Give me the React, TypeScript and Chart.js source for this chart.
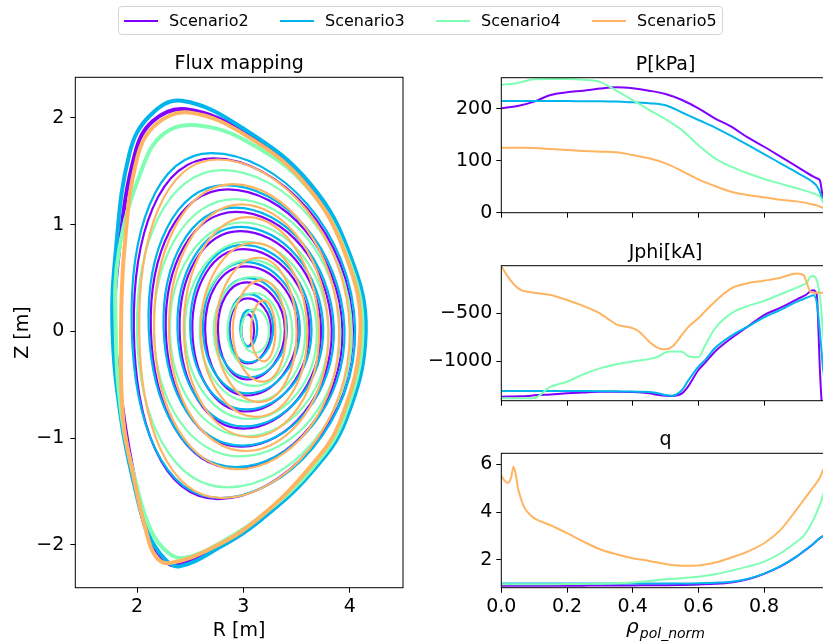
import React, { useEffect, useRef } from 'react';
import { Chart, registerables } from 'chart.js';

Chart.register(...registerables);

const FONT = "'DejaVu Sans', 'Liberation Sans', sans-serif";
const SCENARIOS = ['Scenario2', 'Scenario3', 'Scenario4', 'Scenario5'];
const COLORS = ['#8000ff', '#00b4ec', '#80ffb4', '#ffb462'];

// ---------------- Flux mapping ----------------
const R_TICKS = [2, 3, 4];
const Z_TICKS = [-2, -1, 0, 1, 2];
const R_MIN = 1.42, R_MAX = 4.5;
const Z_MIN = -2.4, Z_MAX = 2.38;

// inner flux surfaces: [R_outer, Z_outer, R_top, Z_top, R_inner, Z_inner, R_bottom, Z_bottom]
const SURF_S2 = [
  [4.03, 0.02, 2.72, 1.62, 1.97, 0.02, 2.76, -1.57],
  [3.93, 0.02, 2.85, 1.33, 2.13, 0.02, 2.92, -1.28],
  [3.83, 0.02, 2.93, 1.12, 2.27, 0.02, 2.98, -1.08],
  [3.73, 0.02, 2.97, 0.94, 2.40, 0.02, 3.0, -0.91],
  [3.62, 0.02, 3.0, 0.77, 2.52, 0.02, 3.02, -0.75],
  [3.51, 0.02, 3.02, 0.61, 2.64, 0.02, 3.03, -0.6],
  [3.39, 0.02, 3.03, 0.46, 2.76, 0.02, 3.04, -0.45],
  [3.26, 0.02, 3.04, 0.31, 2.87, 0.02, 3.04, -0.3],
  [3.1, 0.01, 3.04, 0.16, 2.98, 0.01, 3.04, -0.14],
];
const SURF_S3 = [
  [4.05, 0.03, 2.7, 1.67, 1.95, 0.03, 2.78, -1.56],
  [3.95, 0.03, 2.83, 1.37, 2.11, 0.03, 2.93, -1.27],
  [3.85, 0.03, 2.92, 1.16, 2.25, 0.03, 2.99, -1.07],
  [3.75, 0.03, 2.97, 0.98, 2.38, 0.03, 3.01, -0.89],
  [3.64, 0.03, 3.0, 0.81, 2.5, 0.03, 3.03, -0.73],
  [3.53, 0.03, 3.02, 0.65, 2.62, 0.03, 3.04, -0.58],
  [3.41, 0.03, 3.04, 0.5, 2.74, 0.03, 3.05, -0.43],
  [3.28, 0.03, 3.05, 0.35, 2.86, 0.03, 3.05, -0.29],
  [3.13, 0.03, 3.05, 0.2, 2.97, 0.03, 3.05, -0.14],
];
const SURF_S4 = [
  [4.02, 0.0, 2.8, 1.51, 2.0, 0.0, 2.85, -1.46],
  [3.91, 0.0, 2.92, 1.24, 2.16, 0.0, 2.97, -1.17],
  [3.8, 0.0, 2.99, 1.02, 2.31, 0.0, 3.03, -0.98],
  [3.69, 0.0, 3.03, 0.84, 2.45, 0.0, 3.06, -0.82],
  [3.58, 0.0, 3.06, 0.67, 2.59, 0.0, 3.08, -0.66],
  [3.46, 0.0, 3.08, 0.51, 2.72, 0.0, 3.1, -0.51],
  [3.35, 0.0, 3.1, 0.36, 2.85, 0.0, 3.11, -0.36],
  [3.24, 0.0, 3.11, 0.21, 2.98, 0.0, 3.11, -0.2],
];
const SURF_S5 = [
  [4.0, 0.0, 2.76, 1.61, 2.02, 0.0, 2.8, -1.56],
  [3.9, 0.0, 2.9, 1.38, 2.16, 0.0, 2.95, -1.29],
  [3.8, 0.0, 2.98, 1.19, 2.3, 0.0, 3.02, -1.12],
  [3.71, 0.0, 3.04, 1.07, 2.44, 0.0, 3.07, -0.99],
  [3.6, 0.0, 3.1, 0.83, 2.6, 0.0, 3.12, -0.8],
  [3.5, 0.0, 3.14, 0.69, 2.74, 0.0, 3.15, -0.66],
  [3.4, 0.0, 3.17, 0.48, 2.9, 0.0, 3.18, -0.47],
  [3.3, 0.0, 3.19, 0.29, 3.07, 0.0, 3.19, -0.28],
];

// last closed flux surface [R, Z]
const LCFS_S2 = [
  [4.12, 0.0], [3.98, 0.72], [3.61, 1.37], [3.05, 1.84], [2.46, 2.08], [2.15, 1.97], [1.98, 1.66],
  [1.83, 0.75], [1.79, 0.0], [1.88, -0.84], [1.99, -1.45], [2.09, -1.87], [2.22, -2.1], [2.36, -2.19],
  [2.75, -2.03], [3.15, -1.77], [3.62, -1.32], [3.93, -0.84],
];
const LCFS_S3 = [
  [4.15, 0.0], [4.0, 0.72], [3.63, 1.38], [3.03, 1.88], [2.42, 2.16], [2.12, 2.02], [1.93, 1.67],
  [1.8, 0.75], [1.77, 0.0], [1.85, -0.82], [1.97, -1.42], [2.1, -1.88], [2.26, -2.13], [2.4, -2.2],
  [2.78, -2.02], [3.17, -1.76], [3.64, -1.32], [3.96, -0.84],
];
const LCFS_S4 = [
  [4.12, 0.0], [3.97, 0.72], [3.6, 1.35], [3.05, 1.77], [2.56, 1.93], [2.25, 1.85], [2.05, 1.53],
  [1.83, 0.75], [1.8, 0.0], [1.86, -0.82], [1.99, -1.42], [2.13, -1.86], [2.29, -2.07], [2.45, -2.12],
  [2.8, -1.97], [3.18, -1.72], [3.64, -1.29], [3.94, -0.82],
];
const LCFS_S5 = [
  [4.1, 0.0], [3.96, 0.72], [3.6, 1.36], [3.05, 1.82], [2.49, 2.05], [2.18, 1.94], [2.0, 1.62],
  [1.88, 0.75], [1.85, 0.0], [1.87, -0.82], [1.98, -1.42], [2.08, -1.85], [2.17, -2.1], [2.3, -2.17],
  [2.72, -2.02], [3.13, -1.76], [3.6, -1.3], [3.91, -0.84],
];

// ---------------- Profiles ----------------
const RHO_TICKS = [0, 0.2, 0.4, 0.6, 0.8];
const P_TICKS = [0, 100, 200];
const J_TICKS = [-1000, -500];
const Q_TICKS = [2, 4, 6];

const RHO_P = [0, 0.05, 0.1, 0.15, 0.2, 0.25, 0.3, 0.35, 0.4, 0.45, 0.5, 0.55, 0.6, 0.65, 0.7, 0.75, 0.8, 0.85, 0.9, 0.95, 0.96, 0.97, 0.975, 0.98, 0.99];
const P_S2 = [201, 205.6, 214, 226.8, 232, 235, 239, 241.6, 239.6, 235, 228.6, 217, 201, 181.8, 165.7, 145, 127, 108, 88.8, 69.5, 66.3, 62, 45, 24, 12];
const P_S3 = [215.3, 215.2, 215, 215, 215, 214.8, 214.6, 214, 212.6, 211, 207, 193, 178.6, 164.5, 147.8, 130.5, 113, 95, 77, 57.9, 51.4, 40, 30, 21, 12];
const P_S4 = [246, 250, 256.9, 257.5, 257.5, 256, 252, 235, 217, 198, 180, 159, 130, 104.7, 88.7, 76, 65, 56, 47, 37.3, 35, 31, 26, 21, 15];
const P_S5 = [125.2, 125, 124.6, 122.8, 120.8, 119, 117.6, 116.3, 111, 104.7, 95, 80.2, 64.2, 51.4, 40.4, 34, 29.6, 25, 21.8, 15.5, 14, 11.5, 10.5, 9, 7];

const RHO_J = [0, 0.02, 0.04, 0.06, 0.08, 0.1, 0.15, 0.2, 0.25, 0.3, 0.33, 0.35, 0.4, 0.42, 0.45, 0.48, 0.5, 0.52, 0.55, 0.57, 0.6, 0.62, 0.65, 0.7, 0.75, 0.8, 0.85, 0.9, 0.92, 0.93, 0.94, 0.95, 0.96, 0.97, 0.975, 0.98, 0.99];
const J_S2 = [-1374, -1373, -1372, -1370, -1366, -1360, -1350, -1339, -1330, -1322, -1322, -1322, -1325, -1328, -1339, -1357, -1364, -1366, -1339, -1260, -1094, -1020, -902, -762, -640, -518, -441, -353, -320, -300, -270, -258, -300, -1100, -1416, -1500, -1500];
const J_S3 = [-1314, -1314, -1314, -1314, -1314, -1314, -1314, -1314, -1315, -1316, -1317, -1318, -1320, -1322, -1325, -1340, -1357, -1364, -1304, -1200, -1059, -990, -867, -737, -640, -542, -465, -378, -350, -335, -322, -310, -380, -700, -900, -1100, -1300];
const J_S4 = [-1391, -1391, -1391, -1391, -1391, -1388, -1269, -1217, -1139, -1077, -1050, -1035, -1005, -995, -980, -950, -910, -900, -902, -950, -960, -840, -660, -500, -425, -370, -300, -230, -200, -180, -120, -108, -150, -330, -500, -745, -900];
const J_S5 = [-5, -116, -203, -256, -274, -284, -308, -361, -423, -500, -570, -616, -657, -693, -798, -867, -878, -850, -727, -640, -552, -480, -378, -238, -185, -158, -127, -82, -100, -180, -270, -284, -284, -284, -284, -284, -284];

const RHO_Q = [0, 0.01, 0.02, 0.03, 0.037, 0.045, 0.05, 0.06, 0.07, 0.08, 0.1, 0.15, 0.2, 0.25, 0.3, 0.35, 0.4, 0.45, 0.5, 0.55, 0.6, 0.65, 0.7, 0.75, 0.8, 0.85, 0.9, 0.92, 0.95, 0.97, 0.98, 0.99];
const Q_S2 = [0.92, 0.92, 0.92, 0.92, 0.92, 0.92, 0.92, 0.92, 0.92, 0.92, 0.92, 0.92, 0.92, 0.925, 0.93, 0.93, 0.935, 0.94, 0.945, 0.955, 0.97, 1.0, 1.06, 1.19, 1.42, 1.73, 2.15, 2.35, 2.67, 2.92, 3.0, 3.05];
const Q_S3 = [1.02, 1.02, 1.02, 1.02, 1.02, 1.02, 1.02, 1.02, 1.02, 1.02, 1.02, 1.02, 1.02, 1.02, 1.02, 1.02, 1.02, 1.02, 1.02, 1.02, 1.03, 1.05, 1.09, 1.21, 1.43, 1.74, 2.16, 2.37, 2.68, 2.92, 3.0, 3.05];
const Q_S4 = [0.98, 0.98, 0.98, 0.98, 0.98, 0.98, 0.98, 0.98, 0.98, 0.98, 0.98, 0.985, 0.99, 1.0, 1.01, 1.03, 1.06, 1.12, 1.19, 1.24, 1.3, 1.4, 1.55, 1.72, 1.93, 2.28, 2.77, 3.0, 3.68, 4.31, 4.73, 5.0];
const Q_S5 = [5.52, 5.31, 5.22, 5.45, 5.9, 5.5, 5.05, 4.55, 4.2, 4.0, 3.75, 3.45, 3.12, 2.77, 2.45, 2.24, 2.07, 1.96, 1.83, 1.76, 1.77, 1.89, 2.1, 2.35, 2.7, 3.26, 4.13, 4.5, 5.05, 5.45, 5.77, 6.0];

// ---------------- helpers ----------------
const HIDDEN = 'rgba(0,0,0,0)';
const minus = (s: string) => s.replace('-', '\u2212');

function closedLine(pts: { x: number; y: number }[], color: string, width: number, order: number, tension: number) {
  const data = [pts[pts.length - 1], ...pts, pts[0], pts[1]];
  const n = data.length;
  return {
    data,
    borderColor: color,
    borderWidth: width,
    pointRadius: 0,
    pointHoverRadius: 0,
    pointHitRadius: 0,
    fill: false,
    tension,
    order,
    segment: {
      borderColor: (ctx: any) => (ctx.p0DataIndex === 0 || ctx.p1DataIndex === n - 1 ? HIDDEN : undefined),
    },
  };
}

function axis(min: number, max: number, ticks: number[], fmt: (v: number) => string, size: number, horizontal: boolean, pad: number) {
  return {
    type: 'linear',
    min,
    max,
    afterBuildTicks: (s: any) => {
      s.ticks = ticks.map((v) => ({ value: v }));
    },
    afterFit: (s: any) => {
      if (horizontal) s.height = size;
      else s.width = size;
    },
    grid: { drawOnChartArea: false, drawTicks: true, tickLength: 5, color: '#000', lineWidth: 1 },
    border: { display: false },
    ticks: {
      font: { family: FONT, size: 19 },
      color: '#000',
      padding: pad,
      autoSkip: false,
      maxRotation: 0,
      minRotation: 0,
      callback: (v: any) => fmt(Number(v)),
    },
  };
}

function setFont(ctx: CanvasRenderingContext2D, size: number, italic = false) {
  ctx.font = `${italic ? 'italic ' : ''}${size}px ${FONT}`;
}

function deco(draw: (ctx: CanvasRenderingContext2D, a: any) => void) {
  return {
    id: 'deco',
    afterDraw(chart: any) {
      const ctx: CanvasRenderingContext2D = chart.ctx;
      const a = chart.chartArea;
      ctx.save();
      ctx.strokeStyle = '#000';
      ctx.lineWidth = 1;
      ctx.strokeRect(a.left, a.top, a.right - a.left, a.bottom - a.top);
      ctx.fillStyle = '#000';
      ctx.textBaseline = 'alphabetic';
      draw(ctx, a);
      ctx.restore();
    },
  };
}

function baseOptions(padTop: number, padRight: number, scales: any) {
  return {
    animation: false,
    responsive: false,
    devicePixelRatio: 1,
    events: [],
    layout: { padding: { left: 0, top: padTop, right: padRight, bottom: 0 } },
    plugins: { legend: { display: false }, tooltip: { enabled: false }, title: { display: false } },
    scales,
  };
}

function fluxConfig(): any {
  const surfaces = [SURF_S2, SURF_S3, SURF_S4, SURF_S5];
  const lcfs = [LCFS_S2, LCFS_S3, LCFS_S4, LCFS_S5];
  const datasets: any[] = [];
  for (let i = 0; i < 4; i++) {
    const order = 3 - i;
    datasets.push(closedLine(lcfs[i].map(([x, y]) => ({ x, y })), COLORS[i], 4, order, 0.4));
    for (const s of surfaces[i]) {
      const pts = [
        { x: s[0], y: s[1] },
        { x: s[2], y: s[3] },
        { x: s[4], y: s[5] },
        { x: s[6], y: s[7] },
      ];
      datasets.push(closedLine(pts, COLORS[i], 2.2, order, 0.55));
    }
  }
  return {
    type: 'line',
    data: { datasets },
    options: baseOptions(77.3, 17, {
      x: axis(R_MIN, R_MAX, R_TICKS, (v) => minus(String(v)), 55.3, true, 2.5),
      y: axis(Z_MIN, Z_MAX, Z_TICKS, (v) => minus(String(v)), 75.3, false, 6),
    }),
    plugins: [
      deco((ctx, a) => {
        const cx = (a.left + a.right) / 2;
        setFont(ctx, 19);
        ctx.textAlign = 'center';
        ctx.fillText('Flux mapping', cx, a.top - 8);
        ctx.fillText('R [m]', cx, 635.5);
        ctx.save();
        ctx.translate(27.5, (a.top + a.bottom) / 2);
        ctx.rotate(-Math.PI / 2);
        ctx.fillText('Z [m]', 0, 0);
        ctx.restore();
      }),
    ],
  };
}

function profileConfig(
  rho: number[],
  series: number[][],
  yMin: number,
  yMax: number,
  yTicks: number[],
  yFmt: (v: number) => string,
  showX: boolean,
  padTop: number,
  xHeight: number,
  title: string,
  extra?: (ctx: CanvasRenderingContext2D, a: any) => void
): any {
  const datasets = series.map((vals, i) => ({
    label: SCENARIOS[i],
    data: vals.map((v, k) => ({ x: rho[k], y: v })),
    borderColor: COLORS[i],
    borderWidth: 2,
    pointRadius: 0,
    pointHoverRadius: 0,
    pointHitRadius: 0,
    fill: false,
    cubicInterpolationMode: 'monotone',
    order: 3 - i,
  }));
  return {
    type: 'line',
    data: { datasets },
    options: baseOptions(padTop, 10.2, {
      x: axis(0, 1, RHO_TICKS, (v) => (showX ? v.toFixed(1) : ''), xHeight, true, 2.5),
      y: axis(yMin, yMax, yTicks, yFmt, 81.3, false, 4),
    }),
    plugins: [
      deco((ctx, a) => {
        const cx = (a.left + a.right) / 2;
        setFont(ctx, 19);
        ctx.textAlign = 'center';
        ctx.fillText(title, cx, a.top - 8);
        if (extra) extra(ctx, a);
      }),
    ],
  };
}

export default function App() {
  const fluxRef = useRef<HTMLCanvasElement>(null);
  const pRef = useRef<HTMLCanvasElement>(null);
  const jRef = useRef<HTMLCanvasElement>(null);
  const qRef = useRef<HTMLCanvasElement>(null);

  useEffect(() => {
    const charts: Chart[] = [];
    charts.push(new Chart(fluxRef.current as HTMLCanvasElement, fluxConfig()));
    charts.push(
      new Chart(
        pRef.current as HTMLCanvasElement,
        profileConfig(RHO_P, [P_S2, P_S3, P_S4, P_S5], 0, 260, P_TICKS, (v) => String(v), false, 37.7, 17.3, 'P[kPa]')
      )
    );
    charts.push(
      new Chart(
        jRef.current as HTMLCanvasElement,
        profileConfig(RHO_J, [J_S2, J_S3, J_S4, J_S5], -1416, -1, J_TICKS, (v) => minus(String(v)), false, 37.7, 17.3, 'Jphi[kA]')
      )
    );
    charts.push(
      new Chart(
        qRef.current as HTMLCanvasElement,
        profileConfig(RHO_Q, [Q_S2, Q_S3, Q_S4, Q_S5], 0.84, 6.46, Q_TICKS, (v) => String(v), true, 37.3, 55.3, 'q', (ctx, a) => {
          const cx = (a.left + a.right) / 2;
          setFont(ctx, 20, true);
          const w1 = ctx.measureText('\u03c1').width;
          setFont(ctx, 14, true);
          const w2 = ctx.measureText('pol_norm').width;
          const x0 = cx - (w1 + 1 + w2) / 2;
          ctx.textAlign = 'left';
          setFont(ctx, 20, true);
          ctx.fillText('\u03c1', x0, 217.4);
          setFont(ctx, 14, true);
          ctx.fillText('pol_norm', x0 + w1 + 1, 221.5);
        })
      )
    );
    return () => charts.forEach((c) => c.destroy());
  }, []);

  const canvasStyle = (left: number, top: number, w: number, h: number): React.CSSProperties => ({
    position: 'absolute',
    left,
    top,
    width: w,
    height: h,
  });

  return (
    <div style={{ position: 'absolute', left: 0, top: 0, width: 823, height: 643, overflow: 'hidden', background: '#fff' }}>
      <canvas ref={fluxRef} width={420} height={643} style={canvasStyle(0, 0, 420, 643)} />
      <canvas ref={pRef} width={420} height={190} style={canvasStyle(420, 40, 420, 190)} />
      <canvas ref={jRef} width={420} height={190} style={canvasStyle(420, 228, 420, 190)} />
      <canvas ref={qRef} width={420} height={227} style={canvasStyle(420, 416, 420, 227)} />
      <div
        style={{
          position: 'absolute',
          left: 118,
          top: 6,
          width: 605,
          height: 29,
          boxSizing: 'border-box',
          border: '1px solid #d4d4d4',
          borderRadius: 4,
          background: '#fff',
        }}
      >
        {SCENARIOS.map((s, i) => (
          <div
            key={s}
            style={{
              position: 'absolute',
              left: 5 + i * 156,
              top: 0,
              height: 27,
              display: 'flex',
              alignItems: 'center',
              whiteSpace: 'nowrap',
            }}
          >
            <span style={{ display: 'inline-block', width: 34, height: 2, background: COLORS[i] }} />
            <span style={{ marginLeft: 11, fontFamily: FONT, fontSize: 16, color: '#000', lineHeight: '27px' }}>{s}</span>
          </div>
        ))}
      </div>
    </div>
  );
}
